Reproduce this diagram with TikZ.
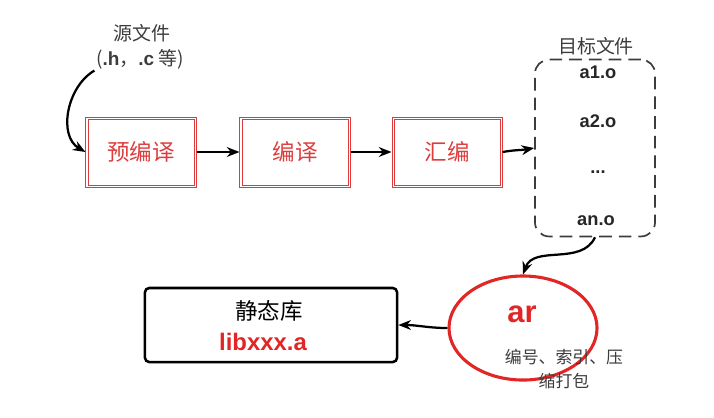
\documentclass[tikz,border=0pt]{standalone}
\usepackage{fontspec}
\setmainfont{Noto Sans CJK SC}
\newfontfamily\latinfont{Liberation Sans}
\usetikzlibrary{arrows.meta}
\usetikzlibrary{shapes.geometric}
\usetikzlibrary{positioning}

\definecolor{libred}{RGB}{226,38,38}
\definecolor{boxred}{RGB}{222,60,60}
\definecolor{darkgray}{RGB}{60,60,60}

\begin{document}
\begin{tikzpicture}
  [x=0.025cm,y=-0.025cm,
  every node/.style={inner sep=1pt},
  stage/.style={draw=boxred,line width=0.7pt,
    minimum width=2.75cm,minimum height=1.75cm,text=boxred,font=\fontsize{16pt}{18pt}\selectfont},
  objfile/.style={font=\latinfont\bfseries\fontsize{13pt}{15pt}\selectfont,text=black!85},
  note/.style={font=\fontsize{13.5pt}{16pt}\selectfont,text=darkgray},
  >={Stealth[length=9pt,width=7pt]}]

\useasboundingbox (0,0) rectangle (714,417);

% source files
\node[note] (src)  at (142,33) {源文件};
\node[note] (src2) at (140,59) {({\latinfont\bfseries .h}，{\latinfont\bfseries .c} 等)};

% compile stages
\node[stage] (pre) at (141,152) {预编译};
\node[stage] (cc)  at (295,152) {编译};
\node[stage] (as)  at (447,152) {汇编};
\foreach \s in {pre,cc,as}
  \draw[boxred,line width=0.7pt] ([shift={(2.5,2.5)}]\s.north west) rectangle ([shift={(-2.5,-2.5)}]\s.south east);

% object files
\node[draw=darkgray,dash pattern=on 9pt off 5pt,line width=1.2pt,rounded corners=10pt,
  minimum width=3cm,minimum height=4.42cm] (obj) at (595,148) {};
\node[note] (objlbl) at (596,46) {目标文件};
\node[objfile] (a1) at (598,72)  {a1.o};
\node[objfile] (a2) at (598,121) {a2.o};
\node[objfile] (dd) at (598,172) {...};
\node[objfile] (an) at (596,221) {an.o};

% ar and static library
\node[ellipse,draw=libred,line width=2.2pt,minimum width=3.7cm,minimum height=2.6cm] (ar) at (523,328) {};
\node[font=\latinfont\bfseries\fontsize{22pt}{26pt}\selectfont,text=libred] (artxt) at (522,314) {ar};
\node[note,font=\fontsize{12pt}{17pt}\selectfont,align=center] (arnote) at (564,369) {编号、索引、压\\缩打包};
\node[draw=black,line width=1.8pt,rounded corners=3pt,minimum width=6.3cm,minimum height=1.85cm] (lib) at (271,325) {};
\node[font=\fontsize{16pt}{18pt}\selectfont] (libtxt) at (269,311) {静态库};
\node[font=\latinfont\bfseries\fontsize{17pt}{20pt}\selectfont,text=libred] (libname) at (263,342) {libxxx.a};

% connectors
\draw[->,line width=1.6pt] (src2.south west) to[out=210,in=150] (pre.west);
\draw[->,line width=1.6pt] (pre.east) -- (cc.west);
\draw[->,line width=1.6pt] (cc.east) -- (as.west);
\draw[->,line width=1.6pt] (as.east) to[out=10,in=190] (obj.west);
\draw[->,line width=1.6pt] (obj.south) to[out=245,in=70] (ar.north);
\draw[->,line width=1.6pt] (ar.west) to[out=180,in=0] (lib.east);
\end{tikzpicture}
\end{document}
